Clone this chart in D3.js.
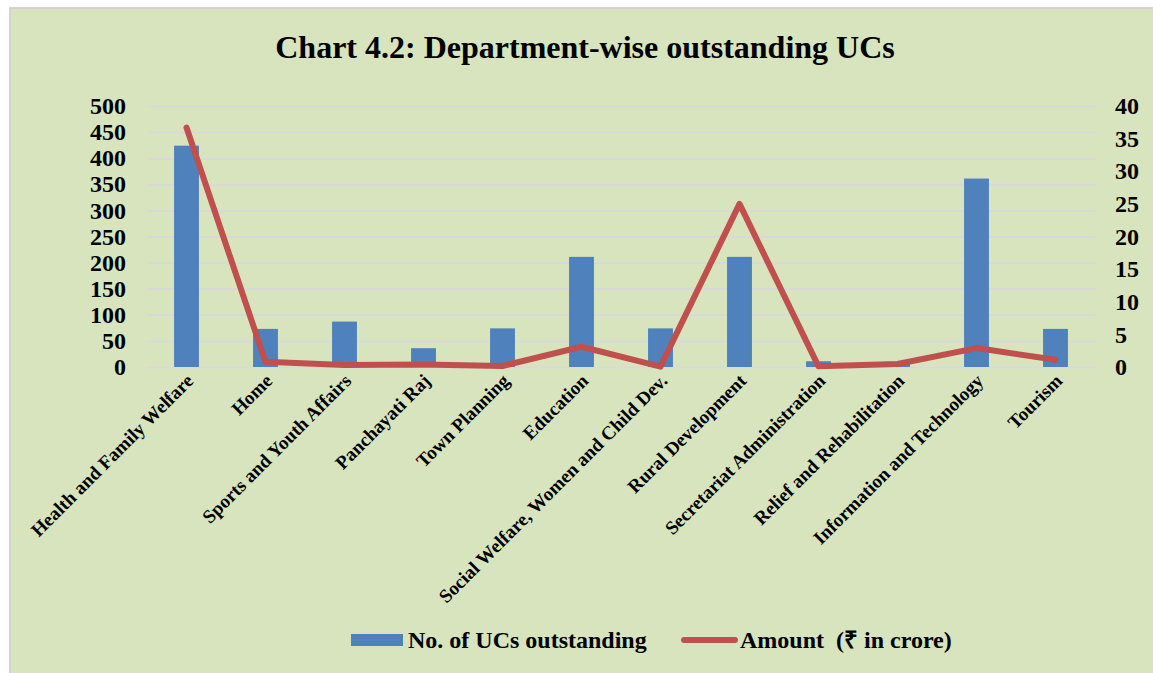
<!DOCTYPE html>
<html>
<head>
<meta charset="utf-8">
<script src="https://cdn.jsdelivr.net/npm/d3@7"></script>
<style>
  body { margin: 0; background: #fff; }
  text { font-family: "Liberation Serif", "Times New Roman", serif; font-weight: bold; fill: #000; }
</style>
</head>
<body>
<script>
var departments = ["Health and Family Welfare", "Home", "Sports and Youth Affairs", "Panchayati Raj",
  "Town Planning", "Education", "Social Welfare, Women and Child Dev.", "Rural Development",
  "Secretariat Administration", "Relief and Rehabilitation", "Information and Technology", "Tourism"];
var ucCount = [424, 73, 87, 36, 74, 211, 74, 211, 11, 10, 361, 73];
var amount  = [36.7, 0.8, 0.3, 0.4, 0.15, 3.1, 0.05, 25, 0.1, 0.45, 2.9, 1.1];
var leftTicks  = [0, 50, 100, 150, 200, 250, 300, 350, 400, 450, 500];
var rightTicks = [0, 5, 10, 15, 20, 25, 30, 35, 40];

var width = 1153, height = 673;
var margin = {top: 106, right: 58, bottom: 306, left: 147};
var w = width - margin.left - margin.right,
    h = height - margin.top - margin.bottom;

var svg = d3.select("body").append("svg")
    .attr("width", width)
    .attr("height", height);

svg.append("rect")
   .attr("x", 10).attr("y", 8)
   .attr("width", width).attr("height", height)
   .attr("fill", "#d7e4bd")
   .attr("stroke", "#d3d3d3")
   .attr("stroke-width", 2);

svg.append("text")
   .attr("x", 585).attr("y", 58)
   .attr("text-anchor", "middle")
   .style("font-size", "32px")
   .text("Chart 4.2: Department-wise outstanding UCs");

var x = d3.scaleBand().domain(departments).range([0, w]).paddingInner(0.685).paddingOuter(0.3425),
    y = d3.scaleLinear().domain([0, 500]).range([h, 0]),
    y2 = d3.scaleLinear().domain([0, 40]).range([h, 0]);

var g = svg.append("g")
   .attr("transform", "translate(" + margin.left + "," + margin.top + ")");

// gridlines
g.append("g")
 .call(d3.axisLeft(y).tickValues(leftTicks).tickSize(-w).tickFormat(""))
 .call(function(a) {
   a.select(".domain").remove();
   a.selectAll("line").attr("stroke", "#d9d9d9").attr("stroke-width", 2);
 });

// left axis labels
g.append("g")
 .call(d3.axisLeft(y).tickValues(leftTicks).tickSize(0).tickPadding(21))
 .call(function(a) {
   a.select(".domain").remove();
   a.selectAll("text").style("font-size", "24px").style("font-family", null).attr("fill", "#000");
 });

// right axis labels
g.append("g")
 .attr("transform", "translate(" + w + ",0)")
 .call(d3.axisRight(y2).tickValues(rightTicks).tickSize(0).tickPadding(20))
 .call(function(a) {
   a.select(".domain").remove();
   a.selectAll("text").style("font-size", "24px").style("font-family", null).attr("fill", "#000");
 });

// bars
g.selectAll(".bar")
 .data(ucCount)
 .enter().append("rect")
   .attr("class", "bar")
   .attr("x", function(d, i) { return x(departments[i]); })
   .attr("y", function(d) { return y(d); })
   .attr("width", x.bandwidth())
   .attr("height", function(d) { return h - y(d); })
   .attr("fill", "#4f81bd");

// line
var line = d3.line()
   .x(function(d, i) { return x(departments[i]) + x.bandwidth() / 2; })
   .y(function(d) { return y2(d); });

g.append("path")
 .datum(amount)
 .attr("d", line)
 .attr("fill", "none")
 .attr("stroke", "#c0504d")
 .attr("stroke-width", 6)
 .attr("stroke-linejoin", "round")
 .attr("stroke-linecap", "round");

// category labels
g.selectAll(".xlab")
 .data(departments)
 .enter().append("text")
   .attr("class", "xlab")
   .attr("text-anchor", "end")
   .style("font-size", "19px")
   .attr("transform", function(d) {
     return "translate(" + (x(d) + x.bandwidth() / 2 + 8) + "," + (h + 15) + ") rotate(-45)";
   })
   .text(function(d) { return d; });

// legend
var lg = svg.append("g");
lg.append("rect")
  .attr("x", 351).attr("y", 634).attr("width", 52).attr("height", 12)
  .attr("fill", "#4f81bd");
lg.append("text")
  .attr("x", 408).attr("y", 648)
  .style("font-size", "24px")
  .text("No. of UCs outstanding");
lg.append("line")
  .attr("x1", 684).attr("x2", 735).attr("y1", 640).attr("y2", 640)
  .attr("stroke", "#c0504d").attr("stroke-width", 6).attr("stroke-linecap", "round");
lg.append("text")
  .attr("x", 740).attr("y", 648)
  .style("font-size", "24px")
  .attr("xml:space", "preserve")
  .text("Amount  (\u20B9 in crore)");
</script>
</body>
</html>
